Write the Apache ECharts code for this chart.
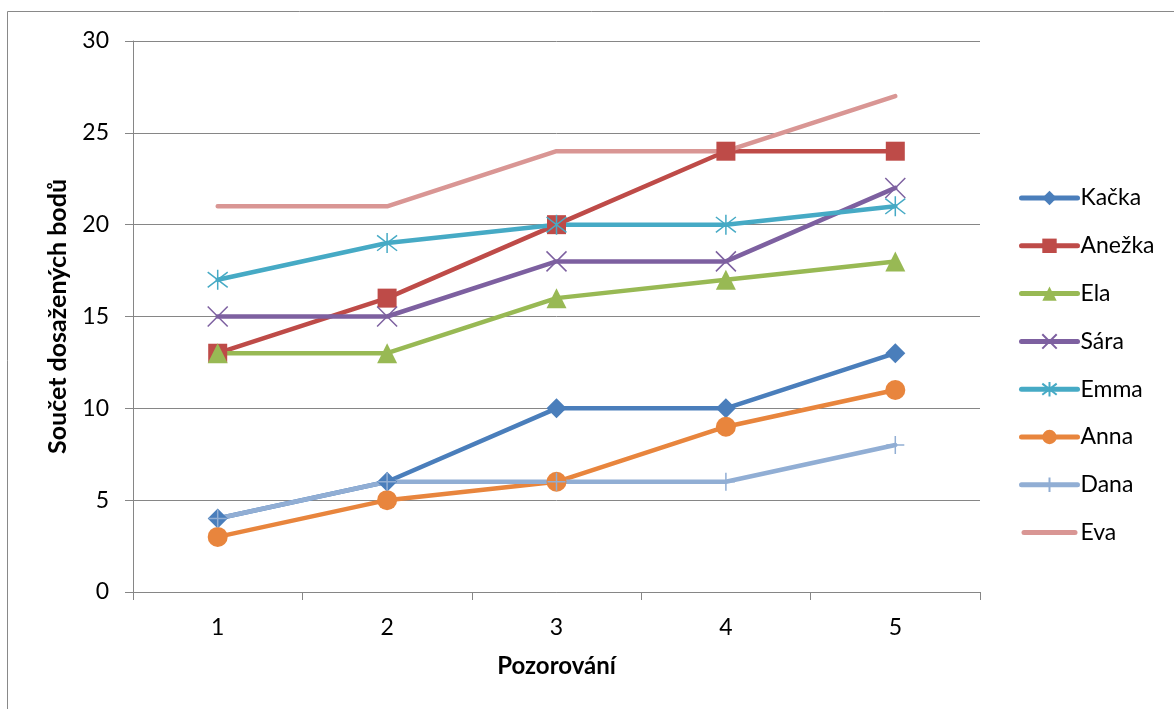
<!DOCTYPE html>
<html>
<head>
<meta charset="utf-8">
<script src="https://cdn.jsdelivr.net/npm/echarts@6/dist/echarts.min.js"></script>
<style>html,body{margin:0;padding:0;background:#fff}#c{width:1174px;height:709px}</style>
</head>
<body>
<div id="c"></div>
<script>
var categories = ['1', '2', '3', '4', '5'];
var names = ['Kačka', 'Anežka', 'Ela', 'Sára', 'Emma', 'Anna', 'Dana', 'Eva'];
var kacka  = [4, 6, 10, 10, 13];
var anezka = [13, 16, 20, 24, 24];
var ela    = [13, 13, 16, 17, 18];
var sara   = [15, 15, 18, 18, 22];
var emma   = [17, 19, 20, 20, 21];
var anna   = [3, 5, 6, 9, 11];
var dana   = [4, 6, 6, 6, 8];
var eva    = [21, 21, 24, 24, 27];
var yTicks = [0, 5, 10, 15, 20, 25, 30];

var values = [kacka, anezka, ela, sara, emma, anna, dana, eva];
var colors = ['#4A7EBB', '#BE4B48', '#98B954', '#7D60A0', '#46AAC5', '#E8853D', '#91AED4', '#D99694'];
var symbols = [
  'diamond', 'rect', 'triangle',
  'path://M0,0L10,10M10,0L0,10',
  'path://M0,0L10,10M10,0L0,10M5,-1.5L5,11.5',
  'circle',
  'path://M5,0L5,10M0,5L10,5',
  'none'
];
var sizes = [20, 19, 20, 20, 20, 20, 18, 0];
var FONT = 'Lato';

var chart = echarts.init(document.getElementById('c'));
var series = names.map(function (n, i) {
  var isPath = symbols[i].indexOf('path://') === 0;
  return {
    name: n,
    type: 'line',
    data: values[i],
    symbol: symbols[i],
    symbolSize: sizes[i],
    showSymbol: symbols[i] !== 'none',
    lineStyle: { color: colors[i], width: 4.5, cap: 'round' },
    itemStyle: isPath ? { color: 'none', borderColor: colors[i], borderWidth: 1.5 } : { color: colors[i], borderWidth: 0 },
    emphasis: { disabled: true },
    animation: false
  };
});

var legendData = names.map(function (n, i) {
  if (symbols[i] === 'none') {
    return { name: n, icon: 'path://M2.5,0L53.5,0A2.5,2.5,0,0,1,53.5,5L2.5,5A2.5,2.5,0,0,1,2.5,0Z', itemStyle: { color: colors[i] } };
  }
  return { name: n };
});

chart.setOption({
  animation: false,
  textStyle: { fontFamily: FONT },
  graphic: [{
    type: 'rect', shape: { x: 7.5, y: 11.5, width: 1300, height: 900 },
    style: { fill: 'none', stroke: '#898989', lineWidth: 1 }, silent: true
  }],
  grid: { left: 133, right: 194, top: 41, bottom: 117 },
  legend: {
    orient: 'vertical', left: 1019, top: 186, padding: 0,
    itemWidth: 56, itemHeight: 18, itemGap: 23.8,
    data: legendData,
    lineStyle: { width: 5, cap: 'round' },
    textStyle: { fontFamily: FONT, fontSize: 23, color: '#000', lineHeight: 24, padding: [0, 0, 0, -2] },
    selectedMode: false
  },
  xAxis: {
    type: 'category', data: categories, boundaryGap: true,
    name: 'Pozorování', nameLocation: 'middle', nameGap: 62,
    nameTextStyle: { fontFamily: FONT, fontSize: 24, fontWeight: 'bold', color: '#000' },
    axisLine: { lineStyle: { color: '#868686', width: 1 } },
    axisTick: { show: true, length: 8, alignWithLabel: false, lineStyle: { color: '#868686' } },
    axisLabel: { fontFamily: FONT, fontSize: 23, color: '#000', margin: 24 }
  },
  yAxis: {
    type: 'value', min: yTicks[0], max: yTicks[yTicks.length - 1], interval: 5,
    name: 'Součet dosažených bodů', nameLocation: 'middle', nameGap: 63,
    nameTextStyle: { fontFamily: FONT, fontSize: 25, fontWeight: 'bold', color: '#000' },
    axisLine: { show: true, lineStyle: { color: '#868686', width: 1 } },
    axisTick: { show: true, length: 8, lineStyle: { color: '#868686' } },
    axisLabel: { fontFamily: FONT, fontSize: 23, color: '#000', margin: 24 },
    splitLine: { show: true, lineStyle: { color: '#868686', width: 1 } }
  },
  series: series
});
</script>
</body>
</html>
